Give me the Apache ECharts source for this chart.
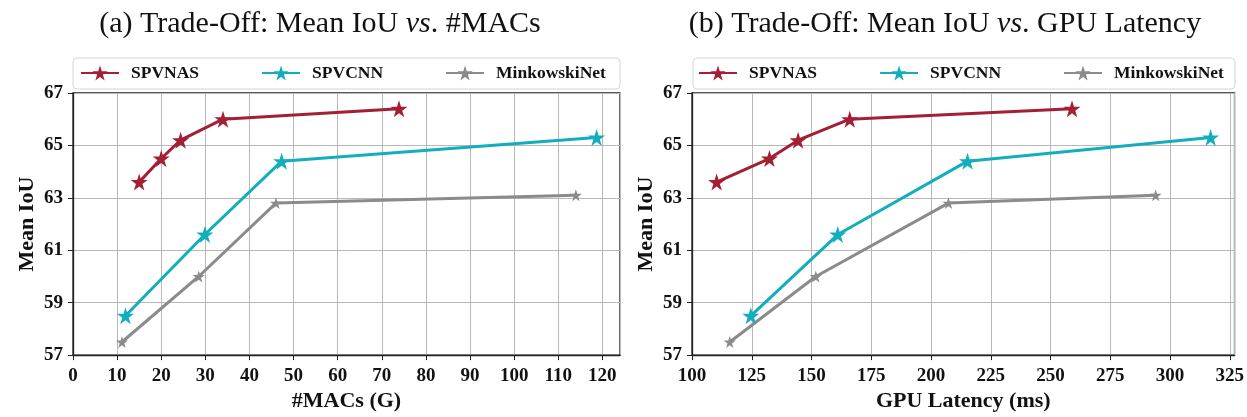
<!DOCTYPE html>
<html>
<head>
<meta charset="utf-8">
<script src="https://cdn.jsdelivr.net/npm/echarts@6/dist/echarts.min.js"></script>
<style>
  html, body { margin: 0; padding: 0; background: #fff; }
  #chart { width: 1247px; height: 417px; }
</style>
</head>
<body>
<div id="chart"></div>
<script>
// data
const seriesNames = ['SPVNAS', 'SPVCNN', 'MinkowskiNet'];

const macsSPVNAS = [15.0, 20.0, 24.4, 34.0, 73.9];
const macsSPVCNN = [11.9, 29.9, 47.3, 118.7];
const macsMink   = [11.1, 28.5, 46.0, 114.0];

const latSPVNAS = [110.3, 132.4, 144.4, 166.0, 259.0];
const latSPVCNN = [124.6, 161.0, 215.3, 317.0];
const latMink   = [115.8, 151.8, 207.3, 294.0];

const miouSPVNAS = [63.6, 64.5, 65.2, 66.0, 66.4];
const miouSPVCNN = [58.5, 61.6, 64.4, 65.3];
const miouMink   = [57.5, 60.0, 62.8, 63.1];

const colors = ['#A31F34', '#12AEBE', '#8A8B8C'];
const star = 'path://M50 0 L61.23 34.55 L97.55 34.55 L68.17 55.9 L79.39 90.45 L50 69.1 L20.61 90.45 L31.83 55.9 L2.45 34.55 L38.77 34.55 Z';

const serif = "'Liberation Serif', 'DejaVu Serif', serif";

function pairs(xs, ys) {
    return xs.map((x, i) => [x, ys[i]]);
}

function makeSeries(name, idx, xs, ys, size) {
    return {
        name: name,
        type: 'line',
        xAxisIndex: idx,
        yAxisIndex: idx,
        data: pairs(xs, ys),
        symbol: star,
        symbolSize: size,
        color: colors[seriesNames.indexOf(name)],
        lineStyle: { width: 3 },
        itemStyle: { borderWidth: 0 },
        animation: false
    };
}

function xAxisOpt(idx, name, min, max, interval) {
    return {
        type: 'value',
        gridIndex: idx,
        min: min, max: max, interval: interval,
        name: name,
        nameLocation: 'middle',
        nameGap: 34,
        nameTextStyle: { fontFamily: serif, fontWeight: 'bold', fontSize: 22, color: '#111' },
        axisLine: { show: true, lineStyle: { color: '#222', width: 1.3 } },
        axisTick: { show: true, inside: false, length: 5, lineStyle: { color: '#222' } },
        axisLabel: { fontFamily: serif, fontWeight: 'bold', fontSize: 19, color: '#111', margin: 11, showMaxLabel: false },
        splitLine: { show: true, lineStyle: { color: '#b8b8b8', width: 1 } }
    };
}

function yAxisOpt(idx) {
    return {
        type: 'value',
        gridIndex: idx,
        min: 57, max: 67, interval: 2,
        name: 'Mean IoU',
        nameLocation: 'middle',
        nameGap: 35,
        nameTextStyle: { fontFamily: serif, fontWeight: 'bold', fontSize: 22, color: '#111' },
        axisLine: { show: true, lineStyle: { color: '#222', width: 1.3 } },
        axisTick: { show: true, inside: false, length: 5, lineStyle: { color: '#222' } },
        axisLabel: { fontFamily: serif, fontWeight: 'bold', fontSize: 19, color: '#111', margin: 10 },
        splitLine: { show: true, lineStyle: { color: '#b8b8b8', width: 1 } }
    };
}

function legendOpt(left) {
    return {
        data: seriesNames,
        left: left,
        top: 64,
        orient: 'horizontal',
        itemWidth: 38,
        itemHeight: 19,
        itemGap: 62,
        padding: 0,
        textStyle: { fontFamily: serif, fontWeight: 'bold', fontSize: 17.5, color: '#111', padding: [0, 0, 0, 7] },
        selectedMode: false
    };
}

function titleText(label, tail) {
    return {
        type: 'text',
        x: 0, y: 0,
        style: {
            text: '{n|' + label + ' Trade-Off: Mean IoU }{i|vs}{n|. ' + tail + '}',
            rich: {
                n: { fontFamily: serif, fontSize: 30, fill: '#111' },
                i: { fontFamily: serif, fontSize: 30, fontStyle: 'italic', fill: '#111' }
            },
            align: 'center',
            verticalAlign: 'middle'
        }
    };
}

let chart = echarts.init(document.getElementById('chart'), null, { renderer: 'canvas' });

let option = {
    animation: false,
    backgroundColor: '#fff',
    graphic: [
        Object.assign(titleText('(a)', '#MACs'), { x: 320, y: 24 }),
        Object.assign(titleText('(b)', 'GPU Latency'), { x: 945, y: 24 }),
        { type: 'rect', z: -1, shape: { x: 73, y: 58, width: 547, height: 31, r: 4 },
          style: { fill: '#fff', stroke: '#d4d4d4', lineWidth: 1 } },
        { type: 'rect', z: -1, shape: { x: 693, y: 58, width: 542, height: 31, r: 4 },
          style: { fill: '#fff', stroke: '#d4d4d4', lineWidth: 1 } }
    ],
    legend: [legendOpt(80), legendOpt(698)],
    grid: [
        { left: 73, top: 93, width: 547, height: 268, show: true, borderColor: '#222', borderWidth: 1.3, backgroundColor: 'transparent' },
        { left: 692, top: 93, width: 543, height: 268, show: true, borderColor: '#222', borderWidth: 1.3, backgroundColor: 'transparent' }
    ],
    xAxis: [
        xAxisOpt(0, '#MACs (G)', 0, 124, 10),
        xAxisOpt(1, 'GPU Latency (ms)', 100, 327, 25)
    ],
    yAxis: [yAxisOpt(0), yAxisOpt(1)],
    series: [
        makeSeries('SPVNAS', 0, macsSPVNAS, miouSPVNAS, 17),
        makeSeries('SPVCNN', 0, macsSPVCNN, miouSPVCNN, 17),
        makeSeries('MinkowskiNet', 0, macsMink, miouMink, 12),
        makeSeries('SPVNAS', 1, latSPVNAS, miouSPVNAS, 17),
        makeSeries('SPVCNN', 1, latSPVCNN, miouSPVCNN, 17),
        makeSeries('MinkowskiNet', 1, latMink, miouMink, 12)
    ]
};

chart.setOption(option);
</script>
</body>
</html>
